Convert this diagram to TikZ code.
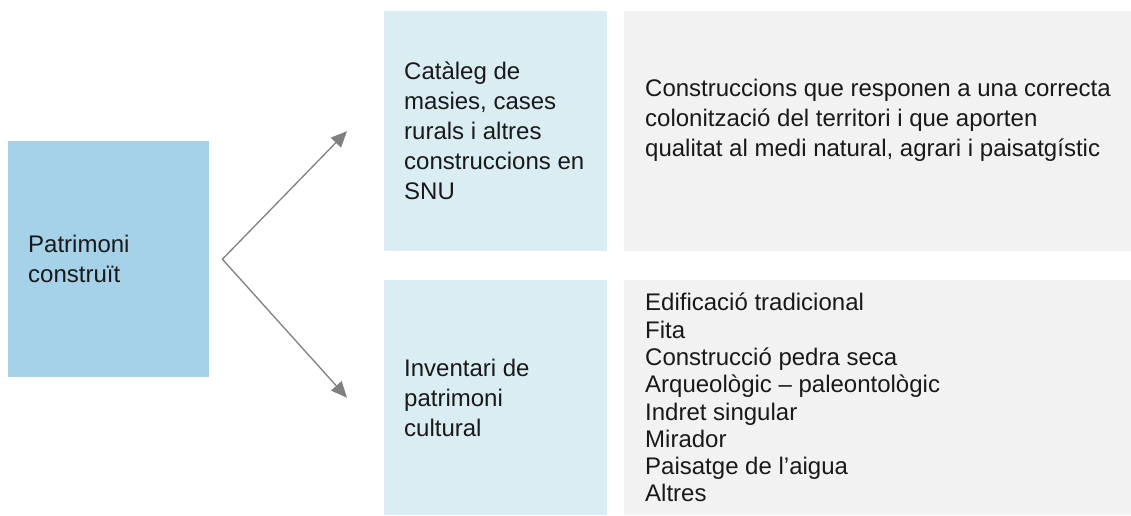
\documentclass[tikz,border=0pt]{standalone}
\usepackage{fontspec}
\setmainfont{Liberation Sans}
\usetikzlibrary{arrows.meta,positioning}
\definecolor{mainblue}{HTML}{A5D2E8}
\definecolor{lightblue}{HTML}{DAEDF3}
\definecolor{panelgray}{HTML}{F2F2F2}
\definecolor{arrowgray}{HTML}{808080}

\begin{document}
\begin{tikzpicture}[x=1pt, y=-1pt, >={Triangle[length=16pt,width=14pt]},
        box/.style={inner sep=0pt, anchor=north west},
        txt/.style={inner sep=0pt, align=left, text=black!90, font=\fontsize{24}{30}\selectfont},
        link/.style={->, draw=arrowgray, fill=arrowgray, line width=1.3pt}]
        \useasboundingbox (0,0) rectangle (1131,515);
        \node[box, fill=mainblue, minimum width=201pt, minimum height=236pt] (main) at (8,141) {};
        \node[box, fill=lightblue, minimum width=223pt, minimum height=240pt] (cat) at (384,11) {};
        \node[box, fill=lightblue, minimum width=223pt, minimum height=235pt] (inv) at (384,280) {};
        \node[box, fill=panelgray, minimum width=507pt, minimum height=240pt] (def) at (624,11) {};
        \node[box, fill=panelgray, minimum width=507pt, minimum height=235pt] (types) at (624,280) {};
        \node[txt, right=20pt of main.west] (maintext) {Patrimoni\\construït};
        \node[txt, right=20pt of cat.west] (cattext) {Catàleg de\\masies, cases\\rurals i altres\\construccions en\\SNU};
        \node[txt, right=20pt of inv.west] (invtext) {Inventari de\\patrimoni\\cultural};
        \node[txt, below right=68pt and 21pt of def.north west] (deftext) {Construccions que responen a una correcta\\colonització del territori i que aporten\\qualitat al medi natural, agrari i paisatgístic};
        \node[txt, font=\fontsize{24}{27.3}\selectfont, right=21pt of types.west] (typetext) {Edificació tradicional\\Fita\\Construcció pedra seca\\Arqueològic – paleontològic\\Indret singular\\Mirador\\Paisatge de l’aigua\\Altres};
        \coordinate (fork) at ([xshift=13pt]main.east);
        \draw[link] (fork) -- ([xshift=-37pt]cat.west);
        \draw[link] (fork) -- ([xshift=-37pt]inv.west);
    \end{tikzpicture}
\end{document}
